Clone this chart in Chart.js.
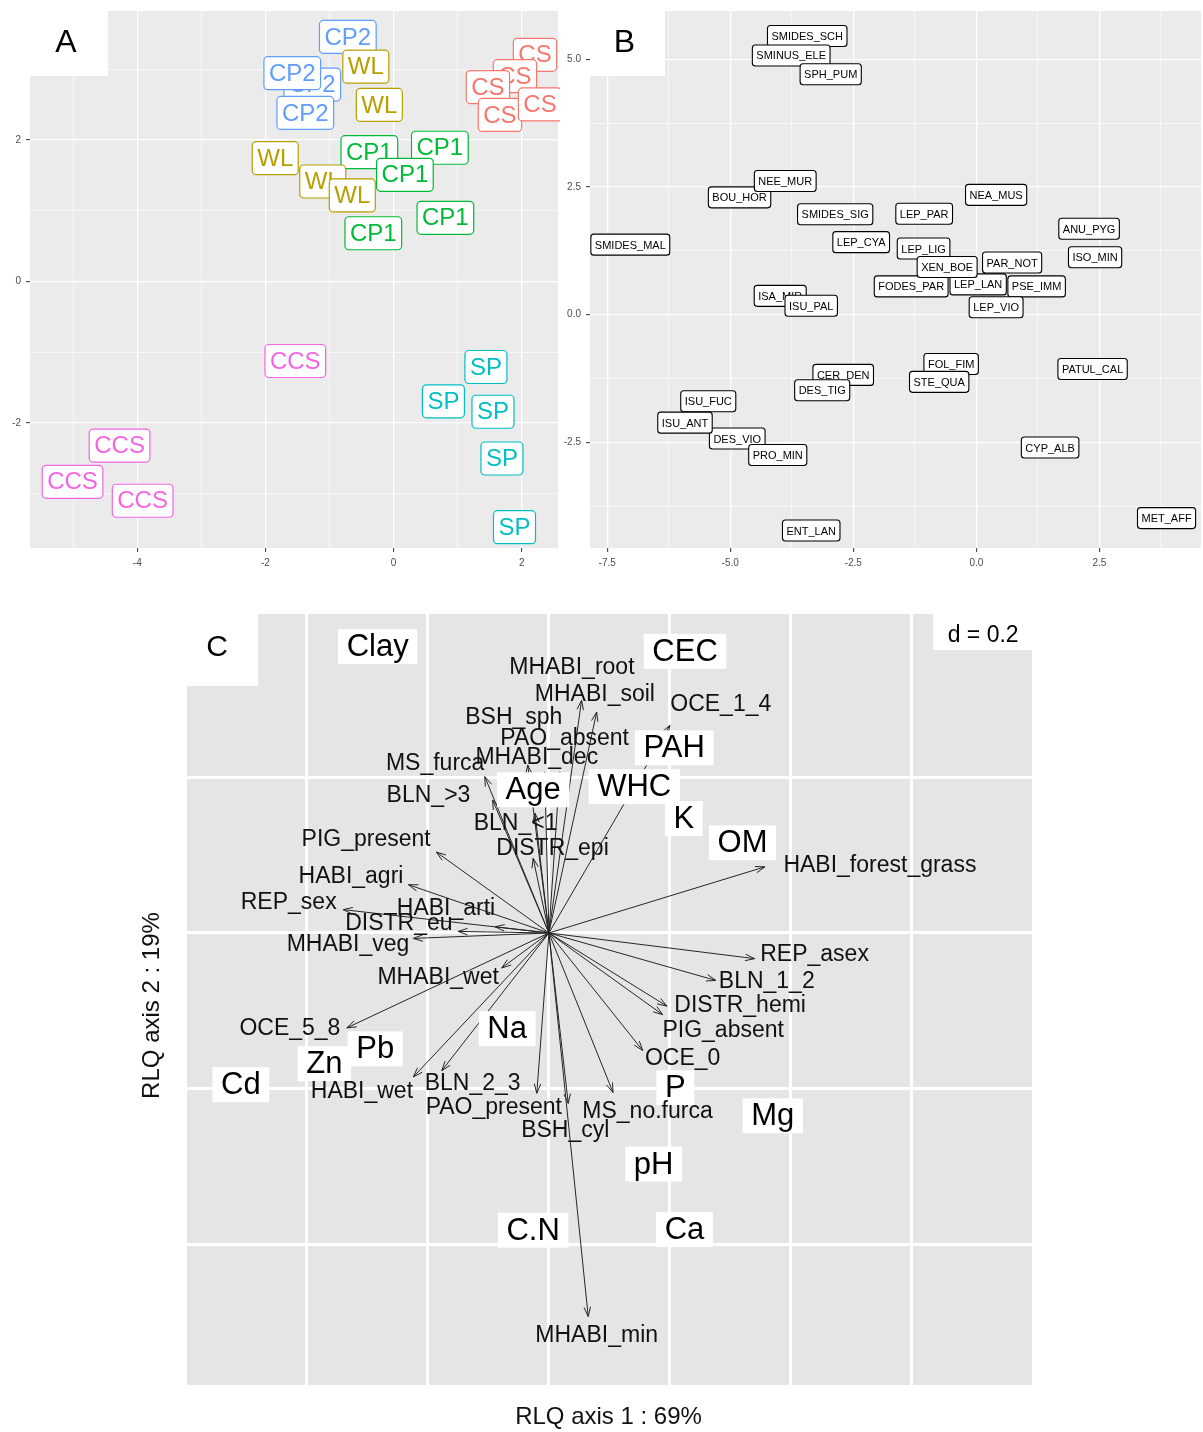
<!DOCTYPE html>
<html>
<head>
<meta charset="utf-8">
<script src="https://cdn.jsdelivr.net/npm/chart.js@4.4.1/dist/chart.umd.min.js"></script>
<style>
  body { margin: 0; background: #fff; width: 1203px; height: 1432px; position: relative; overflow: hidden; }
  canvas { position: absolute; display: block; }
</style>
</head>
<body>
<canvas id="chartA" width="560" height="570" style="left:0;top:0"></canvas>
<canvas id="chartB" width="643" height="570" style="left:560px;top:0"></canvas>
<canvas id="chartC" width="1083" height="842" style="left:120px;top:590px"></canvas>
<script>
const FONT = "'Liberation Sans', Arial, Helvetica, sans-serif";
Chart.defaults.font.family = FONT;

// ---- panel A : site scores, one label per sample ----
const ccsX = [-1.534, -4.277, -5.011, -3.917];
const ccsY = [-1.124, -2.319, -2.832, -3.099];
const spX = [1.442, 0.778, 1.552, 1.692, 1.888];
const spY = [-1.209, -1.694, -1.841, -2.502, -3.472];
const cp1X = [-0.378, 0.723, 0.177, 0.809, -0.316];
const cp1Y = [1.827, 1.890, 1.507, 0.900, 0.682];
const cp2X = [-0.714, -1.269, -1.581, -1.378];
const cp2Y = [3.457, 2.783, 2.944, 2.382];
const wlX = [-0.433, -0.222, -1.847, -1.105, -0.644];
const wlY = [3.036, 2.495, 1.743, 1.413, 1.216];
const csX = [2.208, 1.895, 1.473, 1.661, 2.286];
const csY = [3.204, 2.902, 2.748, 2.354, 2.502];

// ---- panel B : species scores ----
const bNames = ['SMIDES_SCH', 'SMINUS_ELE', 'SPH_PUM', 'BOU_HOR', 'NEE_MUR', 'SMIDES_SIG', 'LEP_PAR',
  'NEA_MUS', 'ANU_PYG', 'ISO_MIN', 'SMIDES_MAL', 'LEP_CYA', 'LEP_LIG', 'FODES_PAR', 'LEP_LAN',
  'PSE_IMM', 'PAR_NOT', 'XEN_BOE', 'LEP_VIO', 'ISA_MIR', 'ISU_PAL', 'FOL_FIM', 'STE_QUA',
  'CER_DEN', 'DES_TIG', 'PATUL_CAL', 'ISU_FUC', 'DES_VIO', 'ISU_ANT', 'PRO_MIN', 'CYP_ALB',
  'MET_AFF', 'ENT_LAN'];
const bX = [-3.436, -3.762, -2.959, -4.811, -3.883, -2.868, -1.060,
  0.402, 2.291, 2.413, -7.031, -2.340, -1.072, -1.324, 0.037,
  1.225, 0.727, -0.593, 0.402, -3.985, -3.355, -0.512, -0.755,
  -2.705, -3.132, 2.362, -5.447, -4.858, -5.920, -4.035, 1.499,
  3.865, -3.355];
const bY = [5.459, 5.079, 4.711, 2.299, 2.620, 1.968, 1.977,
  2.348, 1.685, 1.126, 1.373, 1.422, 1.296, 0.555, 0.594,
  0.555, 1.023, 0.935, 0.146, 0.370, 0.175, -0.964, -1.315,
  -1.179, -1.481, -1.062, -1.695, -2.425, -2.114, -2.747, -2.601,
  -3.984, -4.228];

// ---- panel C : RLQ trait arrows and environmental variables ----
const traitNames = ['MHABI_root', 'MHABI_soil', 'BSH_sph', 'PAO_absent', 'MHABI_dec', 'MS_furca',
  'BLN_>3', 'BLN_<1', 'DISTR_epi', 'PIG_present', 'HABI_agri', 'REP_sex', 'HABI_arti', 'DISTR_eu',
  'MHABI_veg', 'MHABI_wet', 'OCE_5_8', 'HABI_wet', 'BLN_2_3', 'PAO_present', 'BSH_cyl',
  'MS_no.furca', 'MHABI_min', 'OCE_0', 'PIG_absent', 'DISTR_hemi', 'BLN_1_2', 'REP_asex',
  'HABI_forest_grass', 'OCE_1_4'];
const traitX = [0.054, 0.079, -0.035, 0.018, -0.007, -0.106, -0.093, -0.023, -0.026, -0.186,
  -0.232, -0.340, -0.089, -0.150, -0.224, -0.078, -0.334, -0.224, -0.177, -0.020, 0.032,
  0.106, 0.065, 0.155, 0.188, 0.195, 0.276, 0.340, 0.357, 0.200];
const traitY = [0.299, 0.284, 0.216, 0.207, 0.207, 0.201, 0.171, 0.154, 0.096, 0.104,
  0.062, 0.030, 0.008, 0.002, -0.007, -0.045, -0.122, -0.185, -0.177, -0.206, -0.219,
  -0.205, -0.493, -0.151, -0.105, -0.094, -0.061, -0.033, 0.085, 0.267];
const traitLabelX = [0.038, 0.076, -0.058, 0.026, -0.020, -0.188, -0.199, -0.055, 0.006, -0.302,
  -0.327, -0.430, -0.170, -0.248, -0.332, -0.183, -0.428, -0.309, -0.126, -0.091, 0.027,
  0.163, 0.079, 0.221, 0.288, 0.316, 0.360, 0.439, 0.547, 0.284];
const traitLabelY = [0.341, 0.306, 0.277, 0.250, 0.225, 0.217, 0.176, 0.141, 0.108, 0.120,
  0.073, 0.039, 0.031, 0.012, -0.015, -0.057, -0.123, -0.204, -0.194, -0.224, -0.254,
  -0.230, -0.518, -0.162, -0.126, -0.094, -0.062, -0.028, 0.087, 0.294];
const envNames = ['Clay', 'CEC', 'PAH', 'WHC', 'Age', 'K', 'OM', 'Na', 'Zn', 'Pb', 'Cd', 'P', 'Mg', 'pH', 'C.N', 'Ca'];
const envX = [-0.283, 0.225, 0.207, 0.141, -0.026, 0.223, 0.320, -0.069, -0.371, -0.287, -0.509, 0.209, 0.370, 0.173, -0.026, 0.224];
const envY = [0.368, 0.362, 0.238, 0.188, 0.184, 0.147, 0.116, -0.123, -0.168, -0.149, -0.195, -0.199, -0.235, -0.297, -0.382, -0.381];

function pts(xs, ys) {
  return xs.map((x, i) => ({ x: x, y: ys[i] }));
}

function isMultiple(v, step) {
  const r = v / step;
  return Math.abs(r - Math.round(r)) < 1e-6;
}

function roundRect(ctx, x, y, w, h, r) {
  ctx.beginPath();
  ctx.moveTo(x + r, y);
  ctx.arcTo(x + w, y, x + w, y + h, r);
  ctx.arcTo(x + w, y + h, x, y + h, r);
  ctx.arcTo(x, y + h, x, y, r);
  ctx.arcTo(x, y, x + w, y, r);
  ctx.closePath();
}

function drawTag(ctx, x, y, text, st) {
  ctx.font = st.size + 'px ' + FONT;
  const w = ctx.measureText(text).width + 2 * st.padX;
  roundRect(ctx, x - w / 2, y - st.h / 2, w, st.h, st.r);
  ctx.fillStyle = '#fff';
  ctx.fill();
  ctx.lineWidth = st.lw;
  ctx.strokeStyle = st.color;
  ctx.stroke();
  ctx.fillStyle = st.color;
  ctx.textAlign = 'center';
  ctx.textBaseline = 'middle';
  ctx.fillText(text, x, y + 1);
}

// gray panel + boxed labels + panel letter, ggplot style
const ggPlugin = {
  id: 'gg',
  beforeDraw(chart) {
    const a = chart.chartArea, ctx = chart.ctx;
    ctx.save();
    ctx.fillStyle = '#EBEBEB';
    ctx.fillRect(a.left, a.top, a.right - a.left, a.bottom - a.top);
    ctx.restore();
  },
  afterDatasetsDraw(chart) {
    const ctx = chart.ctx;
    ctx.save();
    chart.data.datasets.forEach((ds, i) => {
      chart.getDatasetMeta(i).data.forEach((p, j) => {
        drawTag(ctx, p.x, p.y, ds.tags ? ds.tags[j] : ds.label, ds.tagStyle);
      });
    });
    const L = chart.options.plugins.gg;
    const a = chart.chartArea;
    ctx.fillStyle = '#fff';
    ctx.fillRect(a.left, a.top - 3, L.w, 68);
    ctx.fillStyle = '#000';
    ctx.font = '32px ' + FONT;
    ctx.textAlign = 'center';
    ctx.textBaseline = 'middle';
    ctx.fillText(L.letter, a.left + L.w / 2 - 3, a.top + 32);
    ctx.restore();
  }
};

function ggScale(min, max, step, major, digits, fit) {
  return {
    type: 'linear', min: min, max: max,
    afterFit: fit,
    border: { display: false },
    grid: {
      color: '#FFFFFF',
      lineWidth: c => (c.tick && isMultiple(c.tick.value, major)) ? 1.3 : 0.6,
      tickLength: 4,
      tickWidth: 1,
      tickColor: c => (c.tick && isMultiple(c.tick.value, major)) ? '#333333' : 'rgba(0,0,0,0)'
    },
    ticks: {
      stepSize: step, includeBounds: false, autoSkip: false, maxRotation: 0, minRotation: 0,
      padding: 5, color: '#4D4D4D', font: { size: 10 },
      callback: v => isMultiple(v, major) ? Number(v).toFixed(digits) : ''
    }
  };
}

const baseOpts = {
  responsive: false,
  animation: false,
  events: [],
  layout: { padding: { left: 0, top: 8, right: 2, bottom: 0 } },
  plugins: { legend: { display: false }, tooltip: { enabled: false } }
};

function groupSet(name, xs, ys, color) {
  return {
    label: name, data: pts(xs, ys), pointRadius: 0,
    tagStyle: { size: 24, padX: 5, h: 33, r: 4, lw: 1.2, color: color }
  };
}

new Chart(document.getElementById('chartA'), {
  type: 'scatter',
  data: {
    datasets: [
      groupSet('CCS', ccsX, ccsY, '#F564E3'),
      groupSet('SP', spX, spY, '#00BFC4'),
      groupSet('CP1', cp1X, cp1Y, '#00BA38'),
      groupSet('CP2', cp2X, cp2Y, '#619CFF'),
      groupSet('WL', wlX, wlY, '#B79F00'),
      groupSet('CS', csX, csY, '#F8766D')
    ]
  },
  options: Object.assign({}, baseOpts, {
    plugins: Object.assign({}, baseOpts.plugins, { gg: { letter: 'A', w: 78 } }),
    scales: {
      x: ggScale(-5.675, 2.567, 1, 2, 0, s => { s.height = 22; }),
      y: ggScale(-3.767, 3.823, 1, 2, 0, s => { s.width = 30; })
    }
  }),
  plugins: [ggPlugin]
});

new Chart(document.getElementById('chartB'), {
  type: 'scatter',
  data: {
    datasets: [{
      label: 'species', data: pts(bX, bY), tags: bNames, pointRadius: 0,
      tagStyle: { size: 11, padX: 4, h: 21, r: 3, lw: 1.1, color: '#000' }
    }]
  },
  options: Object.assign({}, baseOpts, {
    plugins: Object.assign({}, baseOpts.plugins, { gg: { letter: 'B', w: 75 } }),
    scales: {
      x: ggScale(-7.85, 4.565, 1.25, 2.5, 1, s => { s.height = 22; }),
      y: ggScale(-4.57, 5.95, 1.25, 2.5, 1, s => { s.width = 30; })
    }
  }),
  plugins: [ggPlugin]
});

// ---- panel C ----
function drawArrow(ctx, x0, y0, x1, y1) {
  const a = Math.atan2(y1 - y0, x1 - x0), L = 10, h = 0.33;
  ctx.beginPath();
  ctx.moveTo(x0, y0);
  ctx.lineTo(x1, y1);
  ctx.moveTo(x1 - L * Math.cos(a - h), y1 - L * Math.sin(a - h));
  ctx.lineTo(x1, y1);
  ctx.lineTo(x1 - L * Math.cos(a + h), y1 - L * Math.sin(a + h));
  ctx.stroke();
}

const rlqPlugin = {
  id: 'rlq',
  beforeDraw(chart) {
    const a = chart.chartArea, ctx = chart.ctx;
    ctx.save();
    ctx.fillStyle = '#E6E5E6';
    ctx.fillRect(a.left, a.top, a.right - a.left, a.bottom - a.top);
    ctx.restore();
  },
  afterDatasetsDraw(chart) {
    const ctx = chart.ctx, sx = chart.scales.x, sy = chart.scales.y, a = chart.chartArea;
    const ox = sx.getPixelForValue(0), oy = sy.getPixelForValue(0);
    ctx.save();
    ctx.strokeStyle = '#262626';
    ctx.lineWidth = 1;
    chart.getDatasetMeta(0).data.forEach(p => drawArrow(ctx, ox, oy, p.x, p.y));

    ctx.textAlign = 'center';
    ctx.textBaseline = 'middle';

    // environmental variables: white boxes hide the arrows below them
    ctx.font = '31px ' + FONT;
    chart.getDatasetMeta(2).data.forEach((p, j) => {
      const w = ctx.measureText(' ' + envNames[j] + ' ').width, h = 35;
      ctx.fillStyle = '#fff';
      ctx.fillRect(p.x - w / 2, p.y - h / 2, w, h);
      ctx.fillStyle = '#000';
      ctx.fillText(envNames[j], p.x, p.y + 1);
    });

    ctx.fillStyle = '#111';
    ctx.font = '23px ' + FONT;
    chart.getDatasetMeta(1).data.forEach((p, j) => ctx.fillText(traitNames[j], p.x, p.y));

    // d = 0.2 box
    ctx.font = '23px ' + FONT;
    const dw = ctx.measureText(' d = 0.2 ').width + 16;
    ctx.fillStyle = '#fff';
    ctx.fillRect(a.right - dw, a.top, dw, 36);
    ctx.fillStyle = '#000';
    ctx.fillText('d = 0.2', a.right - dw / 2, a.top + 22);

    // panel letter
    ctx.fillStyle = '#fff';
    ctx.fillRect(a.left, a.top, 74, 72);
    ctx.fillStyle = '#000';
    ctx.font = '30px ' + FONT;
    ctx.fillText('C', a.left + 33, a.top + 34);
    ctx.restore();
  },
  afterDraw(chart) {
    const ctx = chart.ctx, a = chart.chartArea;
    ctx.save();
    ctx.fillStyle = '#111';
    ctx.font = '24px ' + FONT;
    ctx.textAlign = 'center';
    ctx.textBaseline = 'middle';
    ctx.fillText('RLQ axis 1 : 69%', (a.left + a.right) / 2, a.bottom + 32);
    ctx.translate(a.left - 32, (a.top + a.bottom) / 2 + 6);
    ctx.rotate(-Math.PI / 2);
    ctx.fillText('RLQ axis 2 : 19%', 0, 0);
    ctx.restore();
  }
};

function rlqScale(min, max, fit, hideAbove) {
  return {
    type: 'linear', min: min, max: max,
    afterFit: fit,
    border: { display: false },
    grid: {
      drawTicks: false,
      lineWidth: 3,
      color: c => (c.tick && c.tick.value > hideAbove) ? 'rgba(0,0,0,0)' : '#FFFFFF'
    },
    ticks: { display: false, stepSize: 0.2, includeBounds: false, autoSkip: false }
  };
}

new Chart(document.getElementById('chartC'), {
  type: 'scatter',
  data: {
    datasets: [
      { label: 'traits', data: pts(traitX, traitY), pointRadius: 0 },
      { label: 'trait labels', data: pts(traitLabelX, traitLabelY), pointRadius: 0 },
      { label: 'environment', data: pts(envX, envY), pointRadius: 0 }
    ]
  },
  options: {
    responsive: false,
    animation: false,
    events: [],
    layout: { padding: { left: 64, top: 24, right: 170, bottom: 47 } },
    plugins: { legend: { display: false }, tooltip: { enabled: false } },
    scales: {
      x: rlqScale(-0.603, 0.80, s => { s.height = 0; }, 0.9),
      y: rlqScale(-0.581, 0.41, s => { s.width = 0; }, 0.39)
    }
  },
  plugins: [rlqPlugin]
});
</script>
</body>
</html>
